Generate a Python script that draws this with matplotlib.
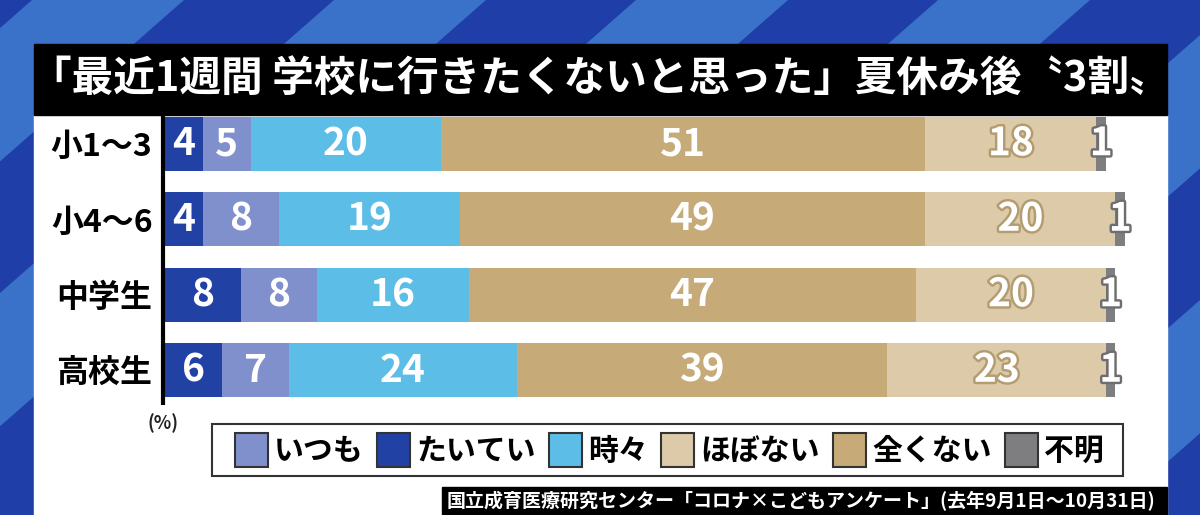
import matplotlib
matplotlib.use("Agg")
import matplotlib.pyplot as plt
import matplotlib.patheffects as pe
from matplotlib.patches import Rectangle, Polygon, Patch
import numpy as np

plt.rcParams['font.family'] = ['Noto Sans CJK JP', 'DejaVu Sans']

# --- データ -------------------------------------------------------------
categories = ['小1～3', '小4～6', '中学生', '高校生']
# 棒の並び順（左から）
series_names = ['たいてい', 'いつも', '時々', '全くない', 'ほぼない', '不明']
taitei = [4, 4, 8, 6]
itsumo = [5, 8, 8, 7]
tokidoki = [20, 19, 16, 24]
mattaku = [51, 49, 47, 39]
hobo = [18, 20, 20, 23]
fumei = [1, 1, 1, 1]
series_values = [taitei, itsumo, tokidoki, mattaku, hobo, fumei]
legend_order = ['いつも', 'たいてい', '時々', 'ほぼない', '全くない', '不明']

title = '「最近1週間 学校に行きたくないと思った」夏休み後〝3割〟'
source = '国立成育医療研究センター「コロナ×こどもアンケート」(去年9月1日～10月31日)'

colors = {
    'たいてい': '#2142a4',
    'いつも': '#8090cc',
    '時々': '#5cbde6',
    '全くない': '#c6aa78',
    'ほぼない': '#dccaa9',
    '不明': '#7e7e80',
}
outline = {'ほぼない': '#b39c70', '不明': '#6e6e70'}

W, H = 1200, 515
fig = plt.figure(figsize=(W / 100, H / 100), dpi=100)


def rect(left, top, right, bottom):
    return [left / W, 1 - bottom / H, (right - left) / W, (bottom - top) / H]


# --- 背景（斜めストライプ） -----------------------------------------------
bg = fig.add_axes([0, 0, 1, 1])
bg.set_xlim(0, W)
bg.set_ylim(H, 0)
bg.axis('off')
bg.add_patch(Rectangle((0, 0), W, H, color='#3a72c9', zorder=0))
slope = 1.14
for k in range(-2, 8):
    x0 = 184 + k * 302
    bg.add_patch(Polygon([(x0, 0), (x0 + 150, 0),
                          (x0 + 150 - slope * H, H), (x0 - slope * H, H)],
                         closed=True, color='#1f3ea8', lw=0, zorder=1))
# 白いパネルとタイトル帯
bg.add_patch(Rectangle((34, 115), 1133, 400, color='white', zorder=2))
bg.add_patch(Rectangle((34, 44), 1133, 71, color='black', zorder=3))
bg.text(30, 80, title, color='white', fontsize=30, fontweight='bold',
        va='center', ha='left', zorder=4)
# 出典
bg.add_patch(Rectangle((442, 487), 725, 28, color='black', zorder=3))
bg.text(447, 501, source, color='white', fontsize=13.7, fontweight='bold',
        va='center', ha='left', zorder=4)
bg.text(163, 423, '(%)', color='#222222', fontsize=13, fontweight='bold',
        va='center', ha='center', zorder=4)
# 凡例の枠
bg.add_patch(Rectangle((212, 424), 911, 52, facecolor='white',
                       edgecolor='#333333', lw=1.5, zorder=4))

# --- 積み上げ横棒 -------------------------------------------------------
ax = fig.add_axes(rect(165, 106, 1125, 408))
ax.patch.set_alpha(0)
y = np.arange(len(categories))
left = np.zeros(len(categories))
for name, vals in zip(series_names, series_values):
    vals = np.array(vals, dtype=float)
    ax.barh(y, vals, left=left, height=0.72, color=colors[name],
            edgecolor='none')
    for yi, (l, v) in enumerate(zip(left, vals)):
        effects = None
        if name in outline:
            effects = [pe.withStroke(linewidth=3.5, foreground=outline[name])]
        ax.text(l + v / 2, yi, f'{int(v)}', color='white', fontsize=28,
                fontweight='bold', ha='center', va='center',
                path_effects=effects, clip_on=False)
    left += vals

ax.set_xlim(0, left.max())
ax.set_ylim(3.5, -0.5)
ax.set_yticks(y)
ax.set_yticklabels(categories, fontsize=23, fontweight='bold', color='black')
ax.tick_params(axis='y', length=0, pad=9)
ax.set_xticks([])
for s in ax.spines.values():
    s.set_visible(False)
ax.plot([-0.22, -0.22], [-0.38, 3.46], color='black', lw=3,
        clip_on=False, solid_capstyle='butt')

# --- 凡例 ---------------------------------------------------------------
leg_handles = [Patch(facecolor=colors[n], edgecolor='#333333', linewidth=1.5)
               for n in legend_order]
leg = fig.legend(leg_handles, legend_order, ncol=6, mode='expand',
                 loc='center', bbox_to_anchor=rect(235, 426, 1104, 474),
                 fontsize=21.5, handlelength=1.1, handleheight=1.35,
                 handletextpad=0.2, columnspacing=0.5, borderpad=0,
                 borderaxespad=0, frameon=False)
for t in leg.get_texts():
    t.set_fontweight('bold')

fig.savefig('out.png', dpi=100)
